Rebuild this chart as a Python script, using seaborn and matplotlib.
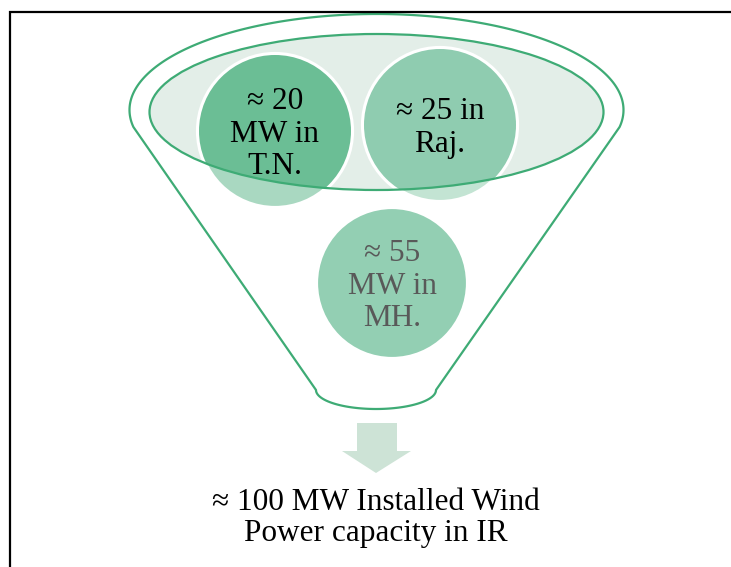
import numpy as np
import matplotlib
matplotlib.use("Agg")
import matplotlib.pyplot as plt
import seaborn as sns
from matplotlib.patches import Ellipse, Circle, Polygon

sns.set_theme(style="white")
plt.rcParams["font.family"] = ["Liberation Serif", "DejaVu Serif"]

# Installed wind power by state (MW) and the total
states = ["T.N.", "Raj.", "MH."]
capacity_mw = [20, 25, 55]
total_mw = 100
state_labels = ["≈ 20\nMW in\nT.N.", "≈ 25 in\nRaj.", "≈ 55\nMW in\nMH."]
total_label = "≈ 100 MW Installed Wind\nPower capacity in IR"

# bubble layout (canvas pixels) and colours
bubble_x = [275, 440, 392]
bubble_y = [131, 125, 283]
bubble_r = [77, 77, 76]
text_y = [134, 128, 286]
inside_colors = ["#6bbe95", "#8fccb0", "#93cfb3"]
outside_colors = ["#a9d8c1", "#c3e4d3", "#93cfb3"]
text_colors = ["#000000", "#000000", "#595959"]

GREEN = "#3eab75"
W, H = 731, 567

fig = plt.figure(figsize=(W / 100, H / 100), dpi=100)
ax = fig.add_axes([0, 0, 1, 1])
ax.set_xlim(0, W)
ax.set_ylim(H, 0)
ax.set_aspect("equal")
ax.axis("off")

# page frame (top and left edges)
ax.plot([10, 10, W + 5], [H + 5, 11.5, 11.5], color="black", lw=1.6,
        solid_capstyle="butt", solid_joinstyle="miter")

# funnel outline: upper arc of the rim, straight sides, rounded spout
cx, cy, a, b = 376.5, 110, 247, 96
y_corner = 127
t0 = np.arcsin((y_corner - cy) / b)
ts = np.linspace(np.pi - t0, 2 * np.pi + t0, 200)
rim = np.column_stack([cx + a * np.cos(ts), cy + b * np.sin(ts)])
bx, by, ba, bb = 376, 390, 60, 19
tb = np.linspace(0, np.pi, 80)
spout = np.column_stack([bx + ba * np.cos(tb), by + bb * np.sin(tb)])
outline = np.vstack([rim, spout, rim[:1]])
ax.add_patch(Polygon(outline, closed=True, fill=False, ec=GREEN, lw=1.6,
                     joinstyle="round"))

# inner rim fill
ecx, ecy, ew, eh = 376.5, 112, 454, 156
ax.add_patch(Ellipse((ecx, ecy), ew, eh, fc="#e3eee8", ec="none", zorder=1))
clip_ell = Ellipse((ecx, ecy), ew, eh, transform=ax.transData)

for i in range(len(states)):
    ax.add_patch(Circle((bubble_x[i], bubble_y[i]), bubble_r[i],
                        fc=outside_colors[i], ec="white", lw=3, zorder=2))
    inner = Circle((bubble_x[i], bubble_y[i]), bubble_r[i] - 1,
                   fc=inside_colors[i], ec="none", zorder=3)
    ax.add_patch(inner)
    inner.set_clip_path(clip_ell)
    ax.text(bubble_x[i], text_y[i], state_labels[i], ha="center",
            va="center", fontsize=22.5, color=text_colors[i],
            linespacing=1.14, zorder=5)

ax.add_patch(Ellipse((ecx, ecy), ew, eh, fc="none", ec=GREEN, lw=1.6,
                     zorder=4))

# down arrow
arrow = [(357, 423), (397, 423), (397, 451), (411, 451), (376, 473),
         (342, 451), (357, 451)]
ax.add_patch(Polygon(arrow, closed=True, fc="#cde3d6", ec="none"))

ax.text(376, 518, total_label, ha="center", va="center", fontsize=22.5,
        color="black", linespacing=1.12)

fig.savefig("out.png", dpi=100)
